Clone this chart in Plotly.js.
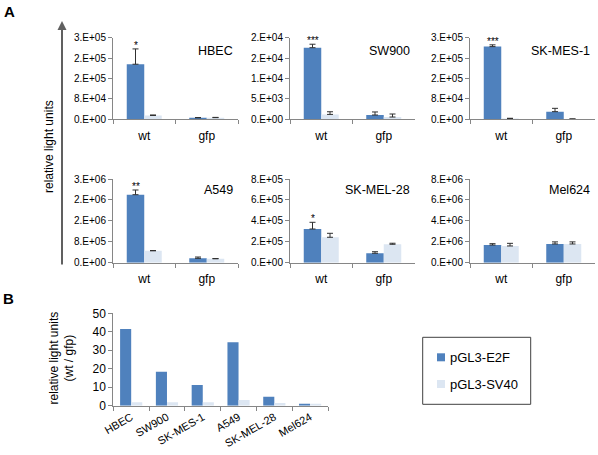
<!DOCTYPE html>
<html><head><meta charset="utf-8">
<script src="https://cdn.plot.ly/plotly-3.0.1.min.js"></script>
<style>html,body{margin:0;padding:0;background:#fff}#chart{width:598px;height:455px}</style>
</head><body><div id="chart"></div>
<script>
// ---------- data ----------
const groups = ['wt', 'gfp'];
const seriesNames = ['pGL3-E2F', 'pGL3-SV40'];
const panelNames = ['HBEC', 'SW900', 'SK-MES-1', 'A549', 'SK-MEL-28', 'Mel624'];
const stars = ['*', '***', '***', '**', '*', ''];

const hbecE2F = [2.16e5, 6.0e3],  hbecE2FErr = [6.0e4, 1.0e3];
const hbecSV40 = [1.5e4, 6.5e3],  hbecSV40Err = [2.0e3, 1.0e3];
const sw900E2F = [1.755e4, 1.05e3], sw900E2FErr = [850, 750];
const sw900SV40 = [1.2e3, 560],   sw900SV40Err = [650, 740];
const skmesE2F = [2.85e5, 3.0e4], skmesE2FErr = [7.0e3, 1.3e4];
const skmesSV40 = [3.0e3, 1.0e3], skmesSV40Err = [1.0e3, 500];
const a549E2F = [2.6e6, 1.67e5],  a549E2FErr = [1.8e5, 5.0e4];
const a549SV40 = [4.55e5, 1.5e5], a549SV40Err = [1.0e4, 1.0e4];
const skmelE2F = [3.22e5, 9.0e4], skmelE2FErr = [6.4e4, 1.5e4];
const skmelSV40 = [2.43e5, 1.76e5], skmelSV40Err = [3.8e4, 1.0e4];
const mel624E2F = [1.69e6, 1.79e6], mel624E2FErr = [1.3e5, 2.0e5];
const mel624SV40 = [1.6e6, 1.79e6], mel624SV40Err = [2.5e5, 2.0e5];

const hbecTickVals = [0, 8e4, 1.6e5, 2.4e5, 3.2e5];
const hbecTickText = ['0.E+00', '8.E+04', '2.E+05', '2.E+05', '3.E+05'];
const sw900TickVals = [0, 5e3, 1e4, 1.5e4, 2e4];
const sw900TickText = ['0.E+00', '5.E+03', '1.E+04', '2.E+04', '2.E+04'];
const skmesTickVals = [0, 8e4, 1.6e5, 2.4e5, 3.2e5];
const skmesTickText = ['0.E+00', '8.E+04', '2.E+05', '2.E+05', '3.E+05'];
const a549TickVals = [0, 8e5, 1.6e6, 2.4e6, 3.2e6];
const a549TickText = ['0.E+00', '8.E+05', '2.E+06', '2.E+06', '3.E+06'];
const skmelTickVals = [0, 2e5, 4e5, 6e5, 8e5];
const skmelTickText = ['0.E+00', '2.E+05', '4.E+05', '6.E+05', '8.E+05'];
const mel624TickVals = [0, 2e6, 4e6, 6e6, 8e6];
const mel624TickText = ['0.E+00', '2.E+06', '4.E+06', '6.E+06', '8.E+06'];

const ratioE2F = [41.5, 18.4, 11.2, 34.3, 4.9, 1.1];
const ratioSV40 = [1.8, 1.8, 1.8, 3.1, 1.4, 1.1];
const ratioTickVals = [0, 10, 20, 30, 40, 50];

// ---------- styling ----------
const W = 598, H = 455;
const FONT = 'Liberation Sans, Arial, sans-serif';
const DARK = '#4F81BD', LIGHT = '#DCE6F2';
const AXC = '#868686', ERRC = '#303030';
const px = x => x / W, py = y => 1 - y / H;

const panels = [
  {e2f: hbecE2F, e2fErr: hbecE2FErr, sv: hbecSV40, svErr: hbecSV40Err, tv: hbecTickVals, tt: hbecTickText},
  {e2f: sw900E2F, e2fErr: sw900E2FErr, sv: sw900SV40, svErr: sw900SV40Err, tv: sw900TickVals, tt: sw900TickText},
  {e2f: skmesE2F, e2fErr: skmesE2FErr, sv: skmesSV40, svErr: skmesSV40Err, tv: skmesTickVals, tt: skmesTickText},
  {e2f: a549E2F, e2fErr: a549E2FErr, sv: a549SV40, svErr: a549SV40Err, tv: a549TickVals, tt: a549TickText},
  {e2f: skmelE2F, e2fErr: skmelE2FErr, sv: skmelSV40, svErr: skmelSV40Err, tv: skmelTickVals, tt: skmelTickText},
  {e2f: mel624E2F, e2fErr: mel624E2FErr, sv: mel624SV40, svErr: mel624SV40Err, tv: mel624TickVals, tt: mel624TickText}
];

const colsPx = [[113, 238], [290, 415], [470, 595]];
const rowsPx = [[37.7, 119.3], [179, 262.7]];
const wA = 0.28, wB = 0.31;

const data = [];
const layout = {
  width: W, height: H,
  margin: {l: 0, r: 0, t: 0, b: 0},
  paper_bgcolor: '#fff', plot_bgcolor: 'rgba(0,0,0,0)',
  showlegend: false,
  font: {family: FONT, color: '#000', size: 12},
  annotations: [], shapes: []
};

function errOpt(arr) {
  return {type: 'data', symmetric: false, array: arr, arrayminus: arr.map(() => 0),
          color: ERRC, thickness: 1, width: 3};
}

panels.forEach((p, i) => {
  const k = i + 1;
  const xs = k === 1 ? 'x' : 'x' + k, ys = k === 1 ? 'y' : 'y' + k;
  const col = colsPx[i % 3], row = rowsPx[Math.floor(i / 3)];
  data.push({type: 'bar', x: groups, y: p.e2f, name: seriesNames[0], xaxis: xs, yaxis: ys,
    marker: {color: DARK, line: {width: 0}}, width: wA, offset: -wA, error_y: errOpt(p.e2fErr), showlegend: false});
  data.push({type: 'bar', x: groups, y: p.sv, name: seriesNames[1], xaxis: xs, yaxis: ys,
    marker: {color: LIGHT, line: {width: 0}}, width: wA, offset: 0, error_y: errOpt(p.svErr), showlegend: false});
  layout['xaxis' + (k === 1 ? '' : k)] = {
    domain: [px(col[0]), px(col[1])], anchor: ys, type: 'category', range: [-0.5, 1.5],
    showline: true, linecolor: AXC, linewidth: 1, ticks: 'outside', tickson: 'boundaries',
    ticklen: 4, tickcolor: AXC, showgrid: false, zeroline: false,
    tickfont: {size: 12, family: FONT, color: '#000'}, ticklabelstandoff: 5, fixedrange: true
  };
  layout['yaxis' + (k === 1 ? '' : k)] = {
    domain: [py(row[1]), py(row[0])], anchor: xs, range: [0, p.tv[p.tv.length - 1]],
    tickvals: p.tv, ticktext: p.tt, showline: true, linecolor: AXC, linewidth: 1,
    ticks: 'outside', ticklen: 4, tickcolor: AXC, showgrid: false, zeroline: false,
    tickfont: {size: 10, family: FONT, color: '#000'}, fixedrange: true
  };
  layout.annotations.push({xref: xs + ' domain', yref: ys + ' domain', x: 0.975, y: i < 3 ? 0.84 : 0.865,
    xanchor: 'right', yanchor: 'middle', text: panelNames[i], showarrow: false,
    font: {size: 12.5, family: FONT, color: '#000'}});
  if (stars[i]) {
    layout.annotations.push({xref: xs, yref: ys, x: -wA / 2, y: p.e2f[0] + p.e2fErr[0],
      xanchor: 'center', yanchor: 'bottom', yshift: -4, text: stars[i], showarrow: false,
      font: {size: 10, family: FONT, color: '#000'}});
  }
});

// Panel B
data.push({type: 'bar', x: panelNames, y: ratioE2F, name: seriesNames[0], xaxis: 'x7', yaxis: 'y7',
  marker: {color: DARK, line: {width: 0}}, width: wB, offset: -wB, showlegend: false});
data.push({type: 'bar', x: panelNames, y: ratioSV40, name: seriesNames[1], xaxis: 'x7', yaxis: 'y7',
  marker: {color: LIGHT, line: {width: 0}}, width: wB, offset: 0, showlegend: false});
layout.xaxis7 = {domain: [px(113.3), px(328)], anchor: 'y7', type: 'category', range: [-0.5, 5.5],
  showline: true, linecolor: AXC, ticks: 'outside', tickson: 'boundaries', ticklen: 4, tickcolor: AXC,
  showgrid: false, zeroline: false, tickangle: -30, tickfont: {size: 11, family: FONT, color: '#000'}, fixedrange: true};
layout.yaxis7 = {domain: [py(405.7), py(313.3)], anchor: 'x7', range: [0, 50], tickvals: ratioTickVals,
  showline: true, linecolor: AXC, ticks: 'outside', ticklen: 4, tickcolor: AXC, showgrid: false,
  zeroline: false, tickfont: {size: 12, family: FONT, color: '#000'}, fixedrange: true};

// Panel labels and axis titles
layout.annotations.push(
  {xref: 'paper', yref: 'paper', x: px(9), y: py(11), text: '<b>A</b>', showarrow: false,
   xanchor: 'center', yanchor: 'middle', font: {size: 15, family: FONT, color: '#000'}},
  {xref: 'paper', yref: 'paper', x: px(8.5), y: py(298), text: '<b>B</b>', showarrow: false,
   xanchor: 'center', yanchor: 'middle', font: {size: 15, family: FONT, color: '#000'}},
  {xref: 'paper', yref: 'paper', x: px(49), y: py(147), text: 'relative light units', textangle: -90,
   showarrow: false, xanchor: 'center', yanchor: 'middle', font: {size: 12, family: FONT, color: '#000'}},
  {xref: 'paper', yref: 'paper', x: px(62), y: py(21), text: '', showarrow: true, ax: 0, ay: 245,
   arrowhead: 2, arrowsize: 0.9, arrowwidth: 2, arrowcolor: '#606060', standoff: 0},
  {xref: 'paper', yref: 'paper', x: px(61.5), y: py(358), text: 'relative light units<br>(wt / gfp)',
   textangle: -90, showarrow: false, xanchor: 'center', yanchor: 'middle',
   font: {size: 12, family: FONT, color: '#000'}}
);

// Manual legend
const legX0 = 422.7, legX1 = 530.7, legY0 = 337.3, legY1 = 404.3;
layout.shapes.push({type: 'rect', xref: 'paper', yref: 'paper', x0: px(legX0), x1: px(legX1),
  y0: py(legY1), y1: py(legY0), line: {color: '#404040', width: 1}, fillcolor: 'rgba(0,0,0,0)'});
[DARK, LIGHT].forEach((c, j) => {
  const cy = 357.3 + j * 26.7;
  layout.shapes.push({type: 'rect', xref: 'paper', yref: 'paper', x0: px(437), x1: px(445),
    y0: py(cy + 4), y1: py(cy - 4), line: {width: 0}, fillcolor: c});
  layout.annotations.push({xref: 'paper', yref: 'paper', x: px(448), y: py(cy), text: seriesNames[j],
    showarrow: false, xanchor: 'left', yanchor: 'middle', font: {size: 13, family: FONT, color: '#000'}});
});

Plotly.newPlot('chart', data, layout, {staticPlot: true, displayModeBar: false});
</script></body></html>
